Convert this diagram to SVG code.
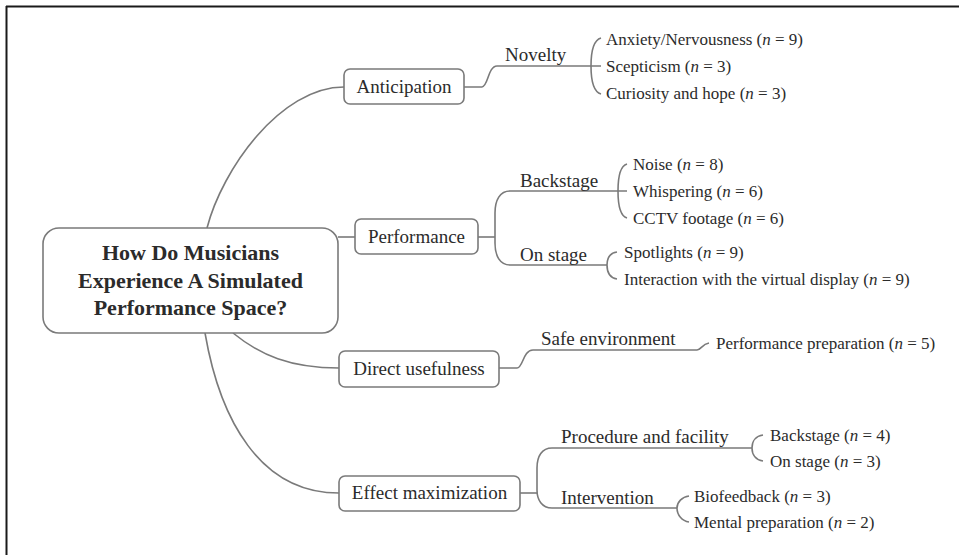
<svg xmlns="http://www.w3.org/2000/svg" width="959" height="555" viewBox="0 0 959 555">
<style>
.frame{stroke:#1a1a1a;stroke-width:2;fill:none}
.box{fill:#fff;stroke:#7a7a7a;stroke-width:1.6}
.ln{fill:none;stroke:#7a7a7a;stroke-width:1.6}
text{fill:#2b2b2b}
.title{font-size:22px;font-weight:bold;text-anchor:middle}
.node{font-size:19px;text-anchor:middle}
.br{font-size:19px}
.leaf{font-size:17px}
.i{font-style:italic}
</style>
<rect width="959" height="555" fill="#fff"/>
<path class="frame" d="M6,6.5 H959 M6.5,6 V555"/>
<g id="connectors">
<path class="ln" d="M207,228 C222,170 280,87 344,87"/>
<path class="ln" d="M338,237 H355"/>
<path class="ln" d="M233,333 C260,355 290,368 339,368"/>
<path class="ln" d="M205,333 C220,420 260,493 339,493"/>
<path class="ln" d="M464,87 H482 C488,87 488,66 497,66 H591"/>
<path class="ln" d="M601,38 C594,40 591,50 591,66 C591,82 594,92 601,94 M591,66 H601"/>
<path class="ln" d="M478,237 H495"/>
<path class="ln" d="M510,191 C500,191 495,200 495,213 V243 C495,256 500,265 510,265"/>
<path class="ln" d="M510,191 H618 M510,265 H607"/>
<path class="ln" d="M627,164 C620,166 618,176 618,191 C618,206 620,216 627,218 M618,191 H627"/>
<path class="ln" d="M617,252 C610,253 607,258 607,265 C607,272 610,278 617,279"/>
<path class="ln" d="M499,368 H517 C523,368 523,350 533,350 H697 C701,350 702,344 709,343"/>
<path class="ln" d="M520,493 H537"/>
<path class="ln" d="M552,448 C542,448 537,456 537,468 V490 C537,500 542,508 552,508"/>
<path class="ln" d="M552,448 H752 M552,508 H677"/>
<path class="ln" d="M763,435 C756,436 752,441 752,448 C752,455 756,460 763,461"/>
<path class="ln" d="M689,496 C682,497 677,502 677,508 C677,515 682,521 689,522"/>
</g>
<g font-family="'Liberation Serif', 'DejaVu Serif', serif">
<g id="root">
<rect class="box" x="43" y="228" width="295" height="105" rx="16"/>
<text class="title" x="190.5" y="260">How Do Musicians</text>
<text class="title" x="190.5" y="288">Experience A Simulated</text>
<text class="title" x="190.5" y="315">Performance Space?</text>
</g>
<g id="anticipation">
<rect class="box" x="344" y="69" width="120" height="35" rx="6"/>
<text class="node" x="404" y="93">Anticipation</text>
</g>
<g id="performance">
<rect class="box" x="355" y="219" width="123" height="35" rx="6"/>
<text class="node" x="416.5" y="243">Performance</text>
</g>
<g id="direct-usefulness">
<rect class="box" x="339" y="351" width="160" height="36" rx="6"/>
<text class="node" x="419" y="375">Direct usefulness</text>
</g>
<g id="effect-maximization">
<rect class="box" x="339" y="476" width="181" height="35" rx="6"/>
<text class="node" x="429.5" y="499">Effect maximization</text>
</g>
<g id="novelty">
<text class="br" x="505" y="61">Novelty</text>
<text class="leaf" x="606" y="45">Anxiety/Nervousness (<tspan class="i">n</tspan> = 9)</text>
<text class="leaf" x="606" y="72">Scepticism (<tspan class="i">n</tspan> = 3)</text>
<text class="leaf" x="606" y="99">Curiosity and hope (<tspan class="i">n</tspan> = 3)</text>
</g>
<g id="backstage">
<text class="br" x="520" y="187">Backstage</text>
<text class="leaf" x="633" y="170">Noise (<tspan class="i">n</tspan> = 8)</text>
<text class="leaf" x="633" y="197">Whispering (<tspan class="i">n</tspan> = 6)</text>
<text class="leaf" x="633" y="224">CCTV footage (<tspan class="i">n</tspan> = 6)</text>
</g>
<g id="on-stage">
<text class="br" x="520" y="261">On stage</text>
<text class="leaf" x="624" y="258">Spotlights (<tspan class="i">n</tspan> = 9)</text>
<text class="leaf" x="624" y="285">Interaction with the virtual display (<tspan class="i">n</tspan> = 9)</text>
</g>
<g id="safe-environment">
<text class="br" x="541" y="345">Safe environment</text>
<text class="leaf" x="716" y="349">Performance preparation (<tspan class="i">n</tspan> = 5)</text>
</g>
<g id="procedure-facility">
<text class="br" x="561" y="443">Procedure and facility</text>
<text class="leaf" x="770" y="441">Backstage (<tspan class="i">n</tspan> = 4)</text>
<text class="leaf" x="770" y="467">On stage (<tspan class="i">n</tspan> = 3)</text>
</g>
<g id="intervention">
<text class="br" x="561" y="504">Intervention</text>
<text class="leaf" x="694" y="502">Biofeedback (<tspan class="i">n</tspan> = 3)</text>
<text class="leaf" x="694" y="528">Mental preparation (<tspan class="i">n</tspan> = 2)</text>
</g>
</g>
</svg>
